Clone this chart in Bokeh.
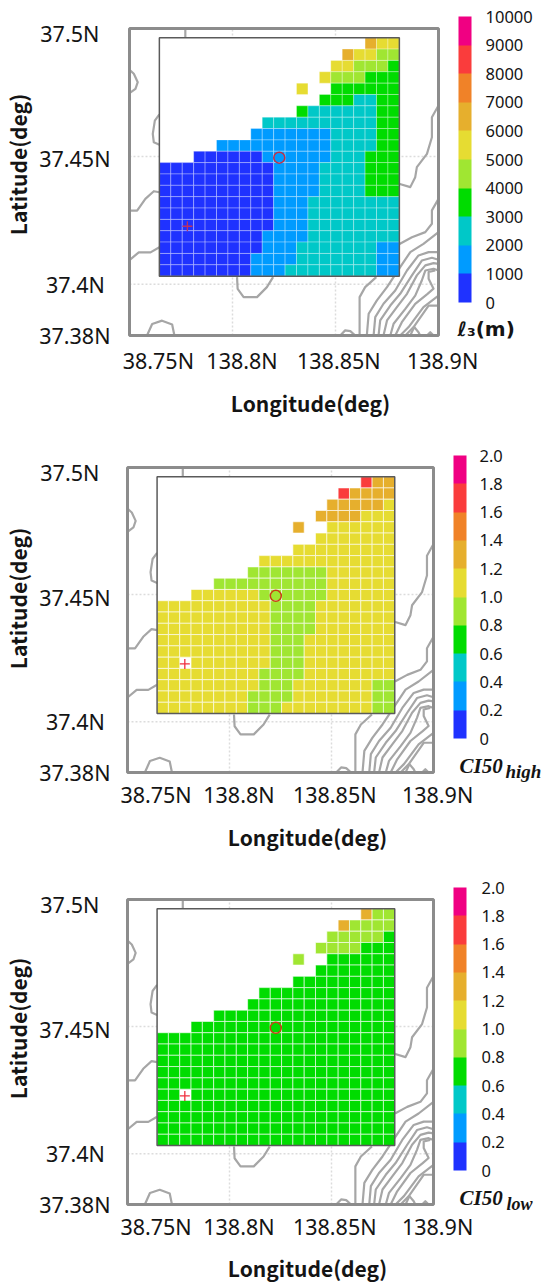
import math
from bokeh.core.properties import value
from bokeh.plotting import figure
from bokeh.layouts import column
from bokeh.models import ColorBar, ColumnDataSource, FixedTicker, LinearColorMapper, Range1d
from bokeh.embed import file_html
from bokeh.resources import INLINE
from bokeh.transform import linear_cmap

PALETTE = ["#1f32ff", "#009bff", "#00c8c8", "#00dc00", "#a0e632",
           "#e6dc32", "#e6af2d", "#f08228", "#fa3c3c", "#f00082"]

LON_RANGE = (138.75, 138.9)
LAT_RANGE = (37.38, 37.5)
GRID_LON0, GRID_LON1 = 138.7645, 138.881
GRID_LAT0, GRID_LAT1 = 37.4032, 37.4964
STATION_LON, STATION_LAT = 138.8227, 37.4495
CROSS_LON, CROSS_LAT = 138.7781, 37.4227
GRATICULE_LON = [138.8, 138.85]
GRATICULE_LAT = [37.45, 37.4]

LON_TICK_POS = [138.764, 138.8046, 138.8516, 138.902]
LON_TICK_LABELS = ["38.75N", "138.8N", "138.85N", "138.9N"]
LAT_TICK_POS = [37.498, 37.449, 37.4, 37.38]
LAT_TICK_LABELS = ["37.5N\u00a0\u00a0", "37.45N", "37.4N\u00a0", "37.38N"]

# one digit per cell = colour class (class width = 1/10 of the colour bar); '.' = no value
L3_CLASSES = [
    "..................655", "................65544", "...............554443",
    "..............5444333", "............5..333333", "..............3332233",
    "............322222233", ".........222222222233", "........1111111222233",
    ".....1111111111222233", "...000000111111222333", "000000000011112222333",
    "000000000011112222333", "000000000011112222333", "000000000011122222222",
    "000000000011122222222", "000000000011122222222", "000000000111122222222",
    "000000000111222222211", "000000001111222222211", "000000001112222222211",
]
CI_HIGH_CLASSES = [
    "..................866", "................86666", "...............666665",
    "..............6666555", "............6..555555", "..............5555555",
    "............555555555", ".........555555555555", "........4444444555555",
    ".....4444444444555555", "...555555444444555555", "555555555544445555555",
    "555555555544445555555", "555555555544445555555", "555555555544455555555",
    "555555555544455555555", "55.555555544455555555", "555555555444455555555",
    "555555555444555555544", "555555554444555555544", "555555554445555555544",
]
CI_LOW_CLASSES = [
    "..................644", "................64444", "...............444443",
    "..............4444333", "............4..333333", "..............3333333",
    "............333333333", ".........333333333333", "........3333333333333",
    ".....3333333333333333", "...333333333333333333", "333333333333333333333",
    "333333333333333333333", "333333333333333333333", "333333333333333333333",
    "333333333333333333333", "33.333333333333333333", "333333333333333333333",
    "333333333333333333333", "333333333333333333333", "333333333333333333333",
]

CONTOURS = [
    ([138.7771, 138.7771], [37.4998, 37.4963]),
    ([138.75, 138.7521, 138.7540, 138.7529, 138.75], [37.4838, 37.4823, 37.4790, 37.4764, 37.4747]),
    ([138.7645, 138.7623, 138.7613, 138.7618, 138.7645], [37.4664, 37.4640, 37.4588, 37.4555, 37.4546]),
    ([138.75, 138.7537, 138.7577, 138.7618, 138.7645], [37.4288, 37.4288, 37.4334, 37.4364, 37.4360]),
    ([138.75, 138.7545, 138.7602, 138.7645], [37.4095, 37.4125, 37.4125, 37.4145]),
    ([138.8022, 138.8025, 138.8054, 138.8119, 138.8167, 138.8197], [37.4028, 37.3982, 37.3950, 37.3950, 37.3989, 37.4028]),
    ([138.7585, 138.7610, 138.7658, 138.7707, 138.7718], [37.38, 37.3845, 37.3858, 37.3843, 37.38]),
    ([138.8808, 138.8863, 138.8887, 138.8895, 138.8944, 138.8968, 138.8968, 138.90], [37.4393, 37.4380, 37.4419, 37.4458, 37.4510, 37.4575, 37.4653, 37.4699]),
    ([138.8617, 138.8617, 138.8644, 138.8698], [37.38, 37.3950, 37.3989, 37.4028]),
    ([138.8811, 138.8871, 138.8936, 138.8968, 138.8968, 138.90], [37.4158, 37.4184, 37.4204, 37.4237, 37.4289, 37.4334]),
    ([138.8652, 138.8661, 138.8701, 138.8750, 138.8814, 138.8863, 138.8927, 138.90], [37.38, 37.3885, 37.3937, 37.3989, 37.4067, 37.4126, 37.4158, 37.4204]),
    ([138.8685, 138.8693, 138.8733, 138.8790, 138.8847, 138.8903, 138.8952, 138.90], [37.38, 37.3872, 37.3924, 37.3976, 37.4054, 37.4113, 37.4126, 37.4126]),
    ([138.8709, 138.8717, 138.8766, 138.8814, 138.8871, 138.8919, 138.8968, 138.90], [37.38, 37.3859, 37.3917, 37.3963, 37.4035, 37.4093, 37.4104, 37.4096]),
    ([138.8733, 138.8750, 138.8798, 138.8847, 138.8895, 138.8936, 138.8976, 138.90], [37.38, 37.3859, 37.3911, 37.3963, 37.4035, 37.4074, 37.4083, 37.4080]),
    ([138.8766, 138.8782, 138.8839, 138.8887, 138.8919, 138.8936, 138.8976, 138.90], [37.38, 37.3846, 37.3904, 37.3956, 37.4015, 37.4054, 37.4061, 37.4054]),
    ([138.8790, 138.8822, 138.8887, 138.8947, 138.8976, 138.8952, 138.8952, 138.8984], [37.38, 37.3852, 37.3924, 37.3963, 37.3983, 37.4022, 37.4048, 37.4054]),
    ([138.8814, 138.8855, 138.8927, 138.90], [37.38, 37.3833, 37.3911, 37.3956]),
    ([138.8839, 138.8879, 138.8952, 138.90], [37.38, 37.3833, 37.3917, 37.3917]),
    ([138.8863, 138.8882, 138.8903, 138.8911], [37.38, 37.3833, 37.3813, 37.38]),
    ([138.8944, 138.8960, 138.8976], [37.38, 37.3813, 37.38]),
    ([138.8523, 138.8547, 138.8572, 138.8596], [37.38, 37.3820, 37.3817, 37.38]),
]

L3_BAR_TICKS = list(range(0, 10001, 1000))
CI_BAR_TICKS = [0, 0.2, 0.4, 0.6, 0.8, 1.0, 1.2, 1.4, 1.6, 1.8, 2.0]
TXT = "#141414"
FONT = "Noto Sans"
WIDTH = 555
FRAME_LEFT, FRAME_RIGHT = 124, 444   # a column gives all its figures the same frame columns


def panel(classes, vmax, ticks, tick_labels, top, height, box, bar, bar_label_x, cell_alpha,
          cross_color, circle_color, xstand, lat_title, lon_title, unit_parts):
    left, right, ftop, fbottom = box
    kx = (LON_RANGE[1] - LON_RANGE[0]) / (right - left)
    ky = (LAT_RANGE[1] - LAT_RANGE[0]) / (fbottom - ftop)
    ft, fb = ftop - 3, fbottom + 3
    x0, y0 = LON_RANGE[0] - (left - FRAME_LEFT) * kx, LAT_RANGE[0] - 3 * ky
    p = figure(width=WIDTH, height=height, output_backend="svg", toolbar_location=None,
               x_range=Range1d(x0, LON_RANGE[1] + (FRAME_RIGHT - right) * kx),
               y_range=Range1d(y0, LAT_RANGE[1] + 3 * ky),
               min_border_left=FRAME_LEFT, min_border_right=WIDTH - FRAME_RIGHT,
               min_border_top=ft - top, min_border_bottom=top + height - fb)
    p.outline_line_color = None
    p.background_fill_color = None
    p.border_fill_color = None
    p.grid.visible = False

    p.segment(GRATICULE_LON, [LAT_RANGE[0]] * 2, GRATICULE_LON, [LAT_RANGE[1]] * 2,
              line_color="#dcdcdc", line_dash="2 2", line_width=1.5)
    p.segment([LON_RANGE[0]] * 2, GRATICULE_LAT, [LON_RANGE[1]] * 2, GRATICULE_LAT,
              line_color="#dcdcdc", line_dash="2 2", line_width=1.5)
    p.multi_line([c[0] for c in CONTOURS], [c[1] for c in CONTOURS],
                 line_color="#a6a6a6", line_width=2.2, line_join="round")
    p.quad(left=[LON_RANGE[0]], right=[LON_RANGE[1]], bottom=[LAT_RANGE[0]], top=[LAT_RANGE[1]],
           fill_color=None, line_color="#8c8c8c", line_width=3)

    p.quad(left=[GRID_LON0], right=[GRID_LON1], bottom=[GRID_LAT0], top=[GRID_LAT1],
           fill_color="white", line_color=None)

    n = len(classes)
    dlon = (GRID_LON1 - GRID_LON0) / n
    dlat = (GRID_LAT1 - GRID_LAT0) / n
    cl, cr, cb, ct, vals = [], [], [], [], []
    for r, row in enumerate(classes):
        for c, ch in enumerate(row):
            if ch == ".":
                continue
            cl.append(GRID_LON0 + c * dlon)
            cr.append(GRID_LON0 + (c + 1) * dlon)
            ct.append(GRID_LAT1 - r * dlat)
            cb.append(GRID_LAT1 - (r + 1) * dlat)
            vals.append((int(ch) + 0.5) * vmax / 10)
    src = ColumnDataSource(dict(left=cl, right=cr, top=ct, bottom=cb, v=vals))
    mapper = LinearColorMapper(palette=PALETTE, low=0, high=vmax)
    p.quad(left="left", right="right", top="top", bottom="bottom", source=src,
           fill_color=linear_cmap("v", PALETTE, 0, vmax), line_color="white",
           line_alpha=cell_alpha, line_width=1)
    p.quad(left=[GRID_LON0], right=[GRID_LON1], bottom=[GRID_LAT0], top=[GRID_LAT1],
           fill_color=None, line_color="#5a5a5a", line_width=1.5)

    p.scatter([STATION_LON], [STATION_LAT], marker="circle", size=11, fill_color=None,
              line_color=circle_color, line_width=1.5)
    p.scatter([CROSS_LON], [CROSS_LAT], marker="cross", size=10, line_color=cross_color,
              line_width=1.3)

    xa, ya = p.xaxis[0], p.yaxis[0]
    for a in (xa, ya):
        a.major_tick_line_color = None
        a.minor_tick_line_color = None
        a.major_tick_out = 0
        a.major_tick_in = 0
        a.minor_tick_out = 0
        a.minor_tick_in = 0
        a.axis_line_color = None
        a.major_label_text_font = FONT
        a.major_label_text_font_size = "21.5px"
        a.major_label_text_color = TXT
    xa.ticker = FixedTicker(ticks=LON_TICK_POS)
    xa.major_label_overrides = dict(zip(LON_TICK_POS, LON_TICK_LABELS))
    xa.major_label_standoff = xstand
    ya.ticker = FixedTicker(ticks=LAT_TICK_POS)
    ya.major_label_overrides = dict(zip(LAT_TICK_POS, LAT_TICK_LABELS))
    ya.major_label_orientation = "horizontal"
    ya.major_label_standoff = 14

    def data_at(px, py):
        return x0 + (px - FRAME_LEFT) * kx, y0 + (fb - py) * ky

    bl, br, bt, bb = bar
    cbar = ColorBar(color_mapper=mapper, ticker=FixedTicker(ticks=ticks),
                    major_label_overrides=dict(zip(ticks, tick_labels)),
                    width=br - bl, height=bb - bt, padding=0, margin=0,
                    location=(bl - FRAME_LEFT, fb - bb),
                    major_tick_line_color=None, bar_line_color=None,
                    background_fill_color=None, border_line_color=None,
                    major_label_text_font=FONT, major_label_text_font_size="16.5px",
                    major_label_text_color=TXT, label_standoff=bar_label_x - br)
    p.add_layout(cbar, "center")

    for txt, (px, py), angle in (("Latitude(deg)", lat_title, math.pi / 2),
                                 ("Longitude(deg)", lon_title, 0)):
        tx, ty = data_at(px, py)
        p.text([tx], [ty], text=[txt], angle=angle, level="overlay",
               text_font=value("Noto Sans CJK JP"), text_font_size="21px",
               text_font_style="bold", text_color=TXT, text_align="center",
               text_baseline="middle")
    for txt, px, py, font, size, style in unit_parts:
        tx, ty = data_at(px, py)
        p.text([tx], [ty], text=[txt], level="overlay", text_font=value(font),
               text_font_size=size, text_font_style=style, text_color=TXT,
               text_baseline="middle")
    return p


p1 = panel(L3_CLASSES, 10000, L3_BAR_TICKS, [str(t) for t in L3_BAR_TICKS], 0, 430,
           (129, 438, 28, 335), (458, 471, 16, 302), 485, 0.3, "#c03060", "#c03048", 7,
           (17, 164), (310, 402),
           [("ℓ₃(m)", 457, 328, "DejaVu Sans", "20px", "bold")])
ci_labels = ["0", "0.2", "0.4", "0.6", "0.8", "1.0", "1.2", "1.4", "1.6", "1.8", "2.0"]
p2 = panel(CI_HIGH_CLASSES, 2, CI_BAR_TICKS, ci_labels, 430, 432,
           (127, 433, 467, 772), (453, 466, 455, 738), 479, 0.6, "#f03040", "#c84014", 4,
           (17, 598), (307, 836),
           [("CI50", 459, 765, "Liberation Serif", "21px", "bold italic"),
            ("high", 505, 771, "Liberation Serif", "19px", "bold italic")])
p3 = panel(CI_LOW_CLASSES, 2, CI_BAR_TICKS, ci_labels, 862, 421,
           (127, 433, 899, 1204), (453, 466, 887, 1170), 481, 0.6, "#f03040", "#c84014", 4,
           (17, 1028), (307, 1267),
           [("CI50", 459, 1197, "Liberation Serif", "21px", "bold italic"),
            ("low", 506, 1203, "Liberation Serif", "18px", "bold italic")])

layout = column(p1, p2, p3, spacing=0)
open("out.html", "w").write(file_html(layout, INLINE))
